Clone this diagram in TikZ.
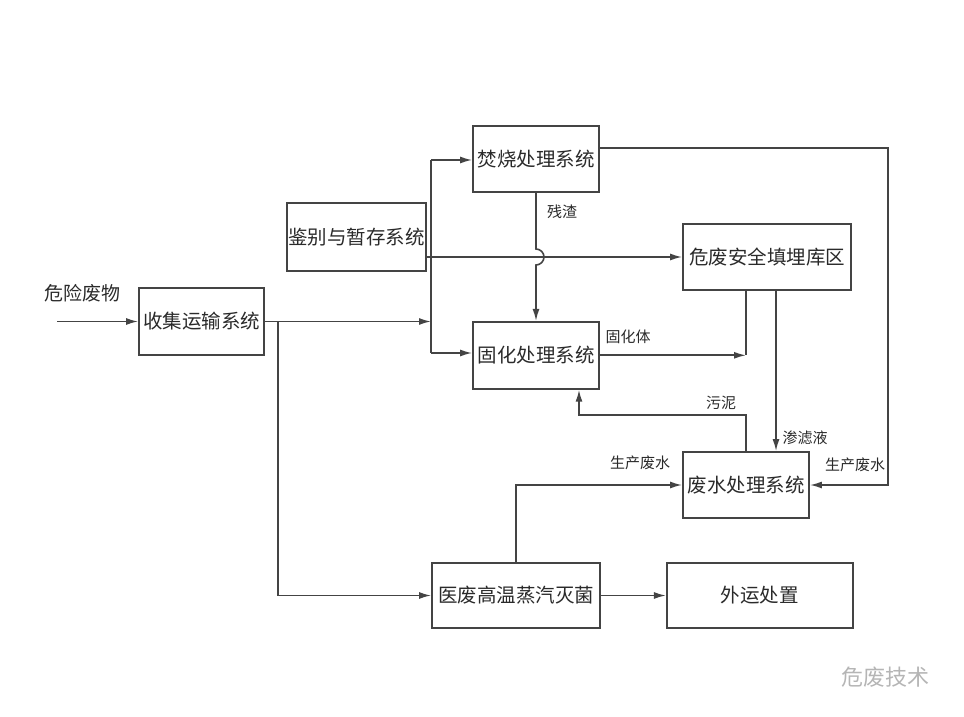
\documentclass[tikz,border=0pt]{standalone}
\usepackage{fontspec}
\setmainfont{Noto Sans CJK SC}
\usepackage{tikz}
\usetikzlibrary{positioning, arrows.meta, calc}
\definecolor{stroke}{HTML}{444444}
\definecolor{ink}{HTML}{2A2A2A}
\definecolor{wmgray}{HTML}{B5B5B5}

\begin{document}
\begin{tikzpicture}[x=1pt, y=1pt,
        every node/.style={font=\fontsize{15}{17}\selectfont, text=ink},
        box/.style={rectangle, draw=stroke, line width=1.8pt, inner sep=0pt,
          font=\fontsize{19.5}{24}\selectfont},
        arr/.style={-{Latex[length=12pt, width=7pt]}, line width=1.6pt, draw=stroke},
        ln/.style={line width=1.6pt, draw=stroke}]

      \useasboundingbox (0,0) rectangle (964,716);

      \node[box, minimum width=125pt, minimum height=67pt] (collect) at (201.5,394.5) {收集运输系统};
      \node[box, minimum width=139pt, minimum height=68pt] (identify) at (356.5,479) {鉴别与暂存系统};
      \node[box, minimum width=126pt, minimum height=66pt] (incin) at (536,557) {焚烧处理系统};
      \node[box, minimum width=126pt, minimum height=67pt, below=128pt of incin] (solid) {固化处理系统};
      \node[box, minimum width=168pt, minimum height=66pt] (landfill) at (767,459) {危废安全填埋库区};
      \node[box, minimum width=126pt, minimum height=66pt] (water) at (746,231) {废水处理系统};
      \node[box, minimum width=168pt, minimum height=65pt] (steril) at (516,120.5) {医废高温蒸汽灭菌};
      \node[box, minimum width=186pt, minimum height=65pt, right=65pt of steril] (outside) {外运处置};

      \coordinate (src) at (57,394.5);
      \coordinate (busT) at (431,556);
      \coordinate (busB) at (431,363);
      \coordinate (tap) at (278,394.5);
      \coordinate (loopR) at (888,0);

      % input and distribution bus
      \draw[arr] (src) -- (collect);
      \node[font=\fontsize{19}{22}\selectfont] (hw) at (82,423) {危险废物};
      \draw[ln] (busT) -- (busB);
      \draw[arr] (collect.east) -- (collect.east -| busB);
      \draw[arr] (busT) -- (busT -| incin.west);
      \draw[arr] (busB) -- (busB -| solid.west);
      \draw[arr] (identify.east |- landfill.west) -- (landfill.west);

      % slag, crossing the landfill line
      \draw[arr] (incin.south) -- ($(incin.south |- landfill.west)+(0,8)$)
        arc[start angle=90, end angle=-90, radius=8] -- (solid.north);
      \node (slag) at (562,504) {残渣};

      % solidified body to landfill
      \draw[arr] (solid.east) -- (solid.east -| water.north);
      \draw[ln] (landfill.south -| water.north) -- (solid.east -| water.north);
      \node (body) at (628,379) {固化体};

      % leachate and sludge
      \draw[arr] ([xshift=9pt]landfill.south) -- ([xshift=9pt]landfill.south |- water.north);
      \node (leach) at (805,278) {渗滤液};
      \draw[arr] (water.north) -- ++(0,36) -| ([xshift=43pt]solid.south);
      \node (sludge) at (721,313) {污泥};

      % production wastewater
      \draw[arr] ([yshift=11pt]incin.east) -| (loopR |- water.east) -- (water.east);
      \node (pwR) at (855,251) {生产废水};
      \draw[arr] (steril.north) |- (water.west);
      \node (pwL) at (640,253) {生产废水};

      % medical waste line
      \draw[arr] (tap) |- (steril.west);
      \draw[arr] (steril) -- (outside);

      \node[text=wmgray, font=\fontsize{22}{24}\selectfont] (wm) at (885,39) {危废技术};
    \end{tikzpicture}
\end{document}
